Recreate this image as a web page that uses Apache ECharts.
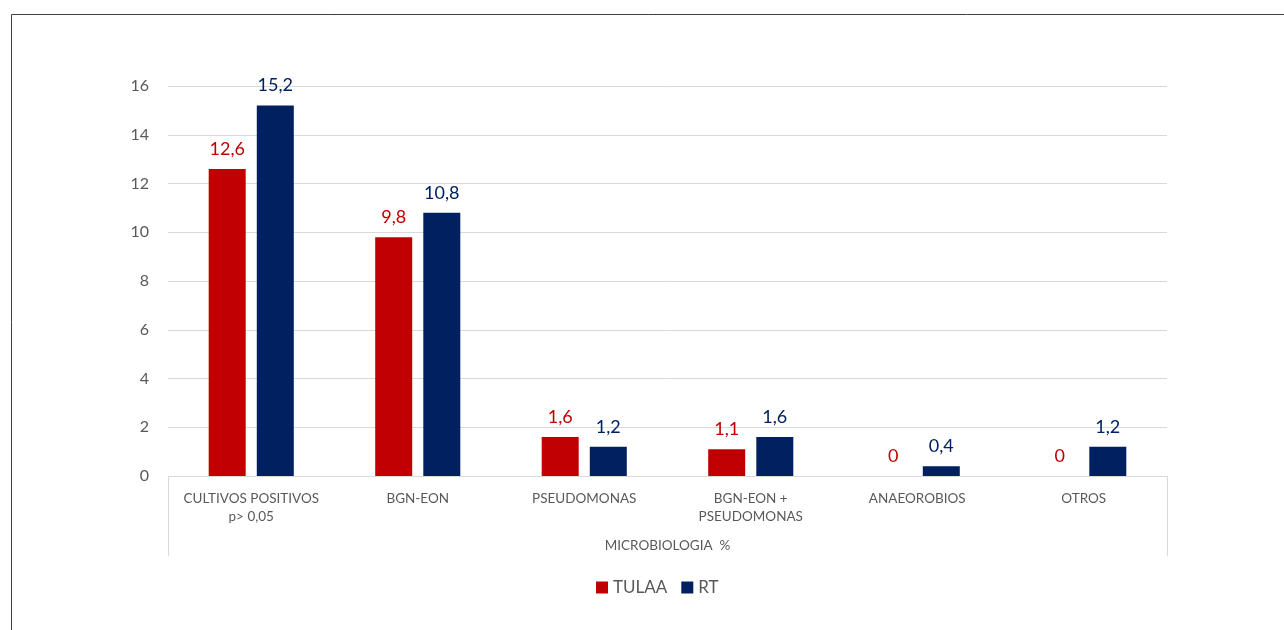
<!DOCTYPE html>
<html><head><meta charset="utf-8">
<script src="https://cdn.jsdelivr.net/npm/echarts@6/dist/echarts.min.js"></script>
<style>html,body{margin:0;padding:0;background:#fff}#c{width:1284px;height:630px}</style>
</head><body><div id="c"></div>
<script>
const categories = ['CULTIVOS POSITIVOS\np> 0,05', 'BGN-EON', 'PSEUDOMONAS', 'BGN-EON +\nPSEUDOMONAS', 'ANAEOROBIOS', 'OTROS'];
const tulaa = [12.6, 9.8, 1.6, 1.1, 0, 0];
const rt = [15.2, 10.8, 1.2, 1.6, 0.4, 1.2];
const seriesNames = ['TULAA', 'RT'];
const axisTitle = 'MICROBIOLOGIA  %';
const yTicks = {min: 0, max: 16, interval: 2};

const FONT = 'Lato, "Open Sans", sans-serif';
const GRAY = '#595959';
const RED = '#C00000';
const NAVY = '#002060';
const fmt = p => String(p.value).replace('.', ',');
const chart = echarts.init(document.getElementById('c'));
const gridPos = {left: 168, right: 117, top: 86, bottom: 154};
chart.setOption({
  animation: false,
  textStyle: {fontFamily: FONT},
  graphic: [{type: 'rect', shape: {x: 11.5, y: 14.5, width: 1300, height: 700}, style: {fill: 'none', stroke: '#404040', lineWidth: 1}}],
  legend: {data: seriesNames, bottom: 29, left: 591, itemWidth: 12, itemHeight: 12, itemGap: 14,
    textStyle: {color: GRAY, fontSize: 17, fontFamily: FONT}, icon: 'rect'},
  grid: [Object.assign({}, gridPos), Object.assign({}, gridPos)],
  xAxis: [{
    type: 'category', data: categories, gridIndex: 0,
    axisLine: {lineStyle: {color: '#d9d9d9', width: 1}},
    axisTick: {show: false},
    axisLabel: {color: GRAY, fontSize: 13.5, margin: 14, lineHeight: 18, interval: 0, fontFamily: FONT}
  }, {
    type: 'category', data: [axisTitle], gridIndex: 1,
    axisLine: {show: false},
    axisTick: {show: true, length: 80, lineStyle: {color: '#d9d9d9', width: 1}},
    axisLabel: {color: GRAY, fontSize: 13.5, margin: 63, fontFamily: FONT}
  }],
  yAxis: [{
    type: 'value', gridIndex: 0, min: yTicks.min, max: yTicks.max, interval: yTicks.interval,
    axisLine: {show: false}, axisTick: {show: false},
    axisLabel: {color: GRAY, fontSize: 16, margin: 19, fontFamily: FONT},
    splitLine: {lineStyle: {color: '#d9d9d9', width: 1}}
  }, {
    type: 'value', gridIndex: 1, show: false, min: 0, max: 1
  }],
  series: [{
    name: seriesNames[0], type: 'bar', data: tulaa, xAxisIndex: 0, yAxisIndex: 0,
    barWidth: 37, barGap: '30%',
    itemStyle: {color: RED},
    label: {show: true, position: 'top', distance: 11, color: RED, fontSize: 18, fontFamily: FONT, formatter: fmt}
  }, {
    name: seriesNames[1], type: 'bar', data: rt, xAxisIndex: 0, yAxisIndex: 0,
    barWidth: 37, barGap: '30%',
    itemStyle: {color: NAVY},
    label: {show: true, position: 'top', distance: 11, color: NAVY, fontSize: 18, fontFamily: FONT, formatter: fmt}
  }]
});
</script></body></html>
